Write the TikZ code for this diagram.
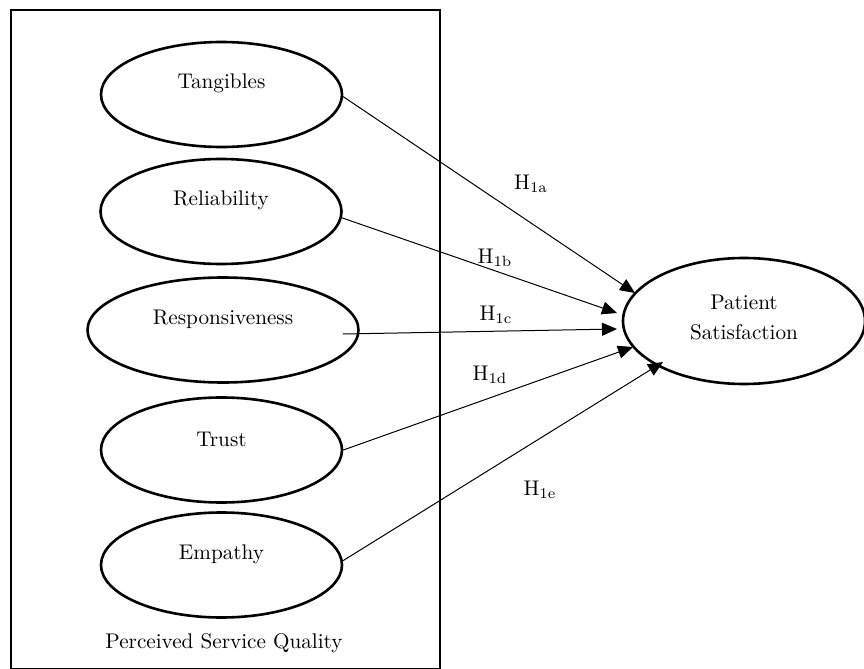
\documentclass[tikz,border=0pt]{standalone}
\usetikzlibrary{shapes.geometric,arrows.meta,calc}
\begin{document}
\begin{tikzpicture}[x=0.5pt,y=-0.5pt,
  oval/.style={ellipse,draw,line width=1.3pt,minimum width=120.5pt,minimum height=52.5pt,inner sep=0pt},
  txt/.style={font=\fontsize{10.6}{15}\selectfont},
  hyp/.style={font=\fontsize{10.6}{13}\selectfont,inner sep=0pt},
  conn/.style={line width=0.5pt,-{Triangle[length=7.5pt,width=6.5pt]}}]
\useasboundingbox (0,0) rectangle (864,669);
\node[draw,line width=1pt,minimum width=214.25pt,minimum height=329.5pt,inner sep=0pt,anchor=north west] (box) at (10,8.5) {};
\node[oval,label={[txt,yshift=5.5pt]center:Tangibles}] (tang) at (221.5,94.5) {};
\node[oval,label={[txt,yshift=5.5pt]center:Reliability}] (rel) at (221,211.5) {};
\node[oval,minimum width=135.5pt,label={[txt,yshift=5.5pt]center:Responsiveness}] (resp) at (223,330) {};
\node[oval,label={[txt,yshift=5.5pt]center:Trust}] (trust) at (221.5,450) {};
\node[oval,label={[txt,yshift=5.5pt]center:Empathy}] (emp) at (221.5,565) {};
\node[txt] (psq) at (224,643) {Perceived Service Quality};
\node[oval,minimum width=121pt,minimum height=63pt,label={[txt,align=center,yshift=2pt]center:Patient\\Satisfaction}] (ps) at (744,321) {};
\coordinate (ta) at (635,293);
\coordinate (tb) at (617,313);
\coordinate (tc) at (617,329);
\coordinate (td) at (633,347);
\coordinate (te) at (663,362);
\draw[conn] (tang.-1.5) -- (ta);
\draw[conn] (rel.-3) -- (tb);
\draw[conn] ($(resp.east)+(-17,4)$) -- (tc);
\draw[conn] (trust.east) -- (td);
\draw[conn] (emp.2.4) -- (te);
\node[hyp] (h1a) at (531,183.5) {H\textsubscript{1a}};
\node[hyp] (h1b) at (495,258) {H\textsubscript{1b}};
\node[hyp] (h1c) at (496,315) {H\textsubscript{1c}};
\node[hyp] (h1d) at (490,375) {H\textsubscript{1d}};
\node[hyp] (h1e) at (540,490) {H\textsubscript{1e}};
\end{tikzpicture}
\end{document}
